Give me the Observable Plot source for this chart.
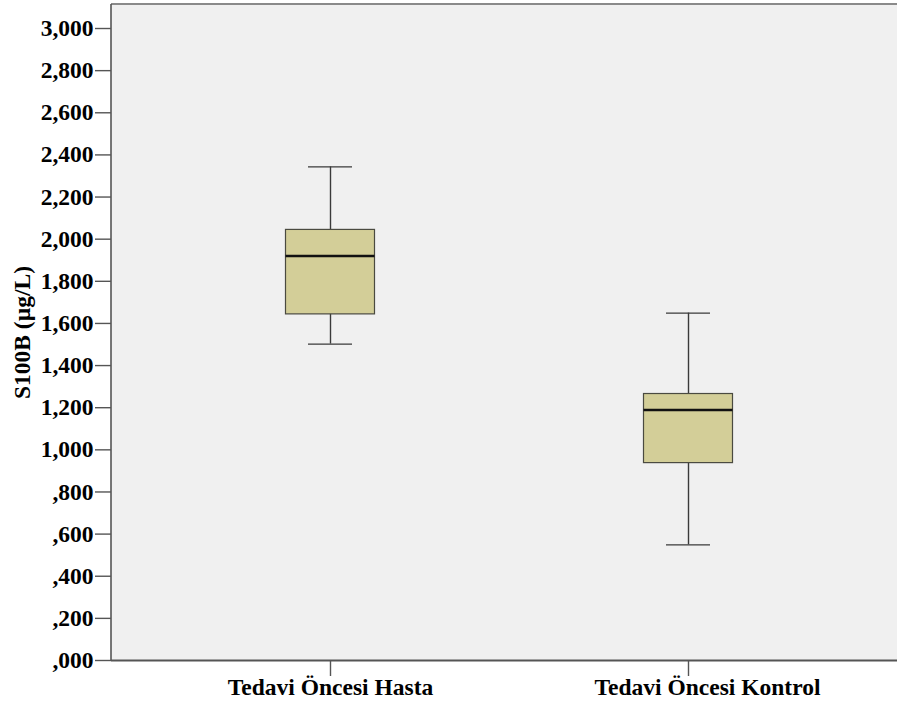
<!DOCTYPE html>
<html>
<head>
<meta charset="utf-8">
<script src="https://cdn.jsdelivr.net/npm/d3@7"></script>
<script src="https://cdn.jsdelivr.net/npm/@observablehq/plot@0.6"></script>
<style>
  html, body { margin: 0; padding: 0; background: #ffffff; overflow: hidden; }
  #chart svg { display: block; }
  #chart svg, #chart svg text {
    font-family: "Liberation Serif", "DejaVu Serif", serif !important;
    font-weight: bold !important;
  }
</style>
</head>
<body>
<div id="chart"></div>
<script>
// Group labels on the x axis
const groups = ["Tedavi Öncesi Hasta", "Tedavi Öncesi Kontrol"];

// Five-number summaries of S100B (µg/L) per group
const whiskerLow  = [1.502, 0.549];
const quartile1   = [1.643, 0.937];
const medians     = [1.920, 1.189];
const quartile3   = [2.044, 1.265];
const whiskerHigh = [2.343, 1.649];

// Y axis tick values
const yTicks = [0, 0.2, 0.4, 0.6, 0.8, 1.0, 1.2, 1.4, 1.6, 1.8, 2.0, 2.2, 2.4, 2.6, 2.8, 3.0];

const rows = groups.map((g, i) => ({
  group: g,
  lo: whiskerLow[i],
  q1: quartile1[i],
  med: medians[i],
  q3: quartile3[i],
  hi: whiskerHigh[i]
}));

// Decimal comma with the leading zero dropped: ,200 … 1,000 … 3,000
const fmt = (v) => {
  const s = v.toFixed(3).replace(".", ",");
  return s.startsWith("0,") ? s.slice(1) : s;
};

const W = 897, H = 706;
const mLeft = 111, mTop = 4, mBottom = 46;
const band = 358;
const boxInset = (band - 89) / 2;
const capInset = (band - 44) / 2;
const serif = "Liberation Serif";
const fs = 23.5;
const yMax = 3.114;

// Plot area: grey background with top and left edges (the right side runs off the page)
function plotArea(index, scales, values, dims) {
  const x0 = dims.marginLeft;
  const y0 = dims.marginTop;
  const y1 = dims.height - dims.marginBottom;
  const g = d3.create("svg:g");
  g.append("rect")
    .attr("x", x0).attr("y", y0)
    .attr("width", dims.width - x0 + 20).attr("height", y1 - y0)
    .attr("fill", "#f0f0f0");
  g.append("line")
    .attr("x1", x0).attr("x2", dims.width + 20).attr("y1", y0).attr("y2", y0)
    .attr("stroke", "#8a8a8a").attr("stroke-width", 2.2);
  g.append("line")
    .attr("x1", x0).attr("x2", x0).attr("y1", y0).attr("y2", y1)
    .attr("stroke", "#555").attr("stroke-width", 1.6);
  return g.node();
}

const chart = Plot.plot({
  width: W,
  height: H,
  marginLeft: mLeft,
  marginTop: mTop,
  marginBottom: mBottom,
  marginRight: 0,
  style: {
    fontFamily: serif,
    fontWeight: "bold",
    fontSize: fs + "px",
    color: "#000",
    background: "#ffffff",
    overflow: "hidden"
  },
  x: {
    type: "band",
    domain: groups,
    range: [mLeft, mLeft + band * 2.2235],
    paddingInner: 0,
    paddingOuter: 0.1117
  },
  y: {
    domain: [0, yMax],
    range: [H - mBottom, mTop]
  },
  marks: [
    plotArea,
    // whiskers
    Plot.ruleX(rows, {x: "group", y1: "lo", y2: "hi", stroke: "#3a3a3a", strokeWidth: 1.4}),
    // interquartile boxes
    Plot.barY(rows, {
      x: "group", y1: "q1", y2: "q3",
      fill: "#d3ce98", stroke: "#4a4a40", strokeWidth: 1.2,
      insetLeft: boxInset, insetRight: boxInset
    }),
    // medians
    Plot.tickY(rows, {x: "group", y: "med", stroke: "#111", strokeWidth: 2.5, inset: boxInset}),
    // whisker caps
    Plot.tickY(rows, {x: "group", y: "lo", stroke: "#3a3a3a", strokeWidth: 1.4, inset: capInset}),
    Plot.tickY(rows, {x: "group", y: "hi", stroke: "#3a3a3a", strokeWidth: 1.4, inset: capInset}),
    Plot.axisY({
      ticks: yTicks,
      tickFormat: fmt,
      tickSize: 16,
      tickPadding: 2,
      stroke: "#555",
      strokeWidth: 1.4,
      fontFamily: serif,
      fontSize: fs,
      fontWeight: "bold",
      label: "S100B (µg/L)",
      labelAnchor: "center",
      labelArrow: "none",
      labelOffset: 98
    }),
    Plot.ruleY([0], {stroke: "#555", strokeWidth: 2}),
    // category ticks
    Plot.axisX({
      tickSize: 16,
      stroke: "#555",
      strokeWidth: 1.4,
      text: null,
      label: null
    }),
    // category labels (the second one sits slightly right of its tick)
    Plot.text([groups[0]], {
      x: (d) => d, frameAnchor: "bottom", dy: 34,
      fontFamily: serif, fontSize: fs, fontWeight: "bold", fill: "#000"
    }),
    Plot.text([groups[1]], {
      x: (d) => d, frameAnchor: "bottom", dy: 34, dx: 19,
      fontFamily: serif, fontSize: fs, fontWeight: "bold", fill: "#000"
    })
  ]
});

document.getElementById("chart").appendChild(chart);
</script>
</body>
</html>
